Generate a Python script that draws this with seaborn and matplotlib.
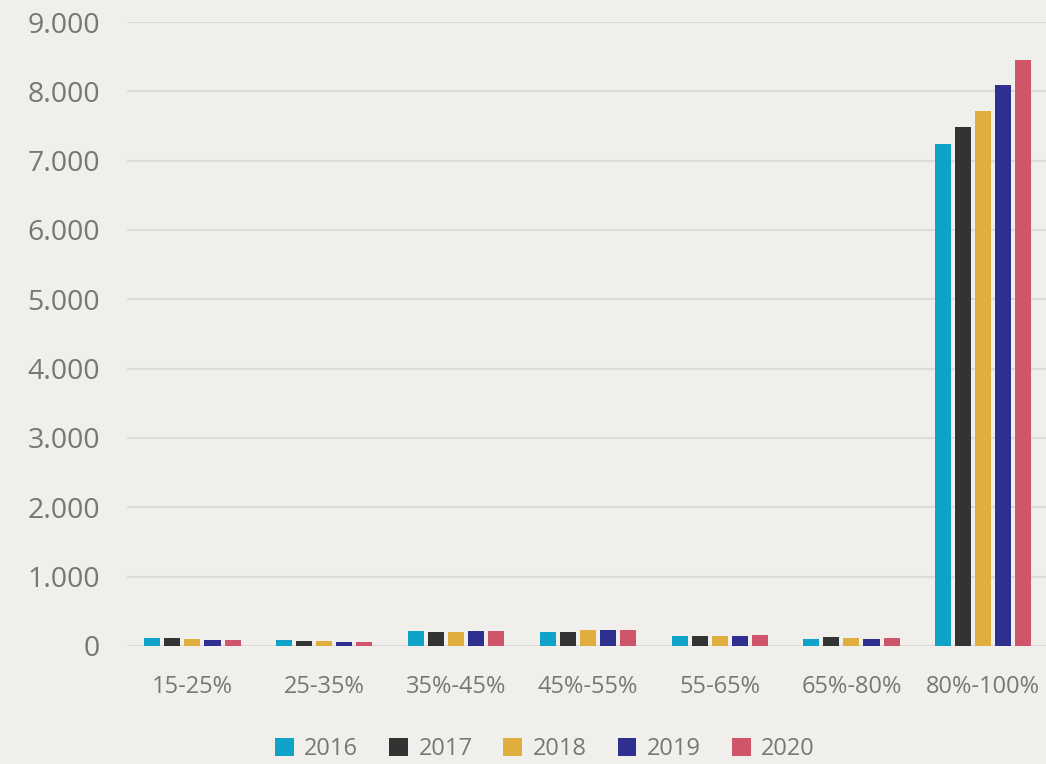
import numpy as np
import pandas as pd
import seaborn as sns
import matplotlib.pyplot as plt
from matplotlib.ticker import FuncFormatter

categories = ['15-25%', '25-35%', '35%-45%', '45%-55%', '55-65%', '65%-80%', '80%-100%']
years = ['2016', '2017', '2018', '2019', '2020']
v2016 = [120, 85, 215, 200, 150, 100, 7245]
v2017 = [110, 78, 205, 205, 150, 130, 7480]
v2018 = [100, 68, 205, 225, 150, 120, 7720]
v2019 = [90, 58, 220, 225, 140, 105, 8085]
v2020 = [85, 55, 215, 225, 160, 120, 8445]
colors = ['#0fa3c9', '#333333', '#e0ae3f', '#2e2f8f', '#d0546a']

rows = []
for y, vals in zip(years, [v2016, v2017, v2018, v2019, v2020]):
    for c, v in zip(categories, vals):
        rows.append({'cat': c, 'year': y, 'value': v})
df = pd.DataFrame(rows)

bg = '#f0efeb'
txt = '#777777'
sns.set_style('white')
plt.rcParams['font.family'] = ['Open Sans', 'DejaVu Sans']

fig = plt.figure(figsize=(10.46, 7.64), dpi=100, facecolor=bg)
ax = fig.add_axes([0.121, 0.1545, 0.879, 0.9712 - 0.1545])
ax.set_facecolor(bg)

sns.barplot(data=df, x='cat', y='value', hue='year', palette=colors,
            saturation=1, width=0.76, gap=0.2, linewidth=0, ax=ax, legend=True)

ax.set_ylim(0, 9000)
ax.set_xlim(-0.5, 6.476)
ax.set_yticks(np.arange(0, 9001, 1000))
ax.yaxis.set_major_formatter(FuncFormatter(lambda v, p: f'{int(v):,}'.replace(',', '.')))
ax.grid(axis='y', color='#dcdbd7', linewidth=1.5)
ax.set_axisbelow(True)
for s in ax.spines.values():
    s.set_visible(False)
ax.tick_params(axis='both', length=0, labelcolor=txt)
ax.tick_params(axis='y', pad=19, labelsize=20.5)
ax.tick_params(axis='x', pad=21, labelsize=17)
ax.set_xlabel('')
ax.set_ylabel('')

leg = ax.legend(loc='upper center', bbox_to_anchor=(0.455, -0.131), ncol=5,
                frameon=False, fontsize=17, handlelength=0.8, handleheight=0.8,
                handletextpad=0.45, columnspacing=1.3, borderaxespad=0)
for t in leg.get_texts():
    t.set_color(txt)

fig.savefig('out.png', dpi=100, facecolor=bg)
